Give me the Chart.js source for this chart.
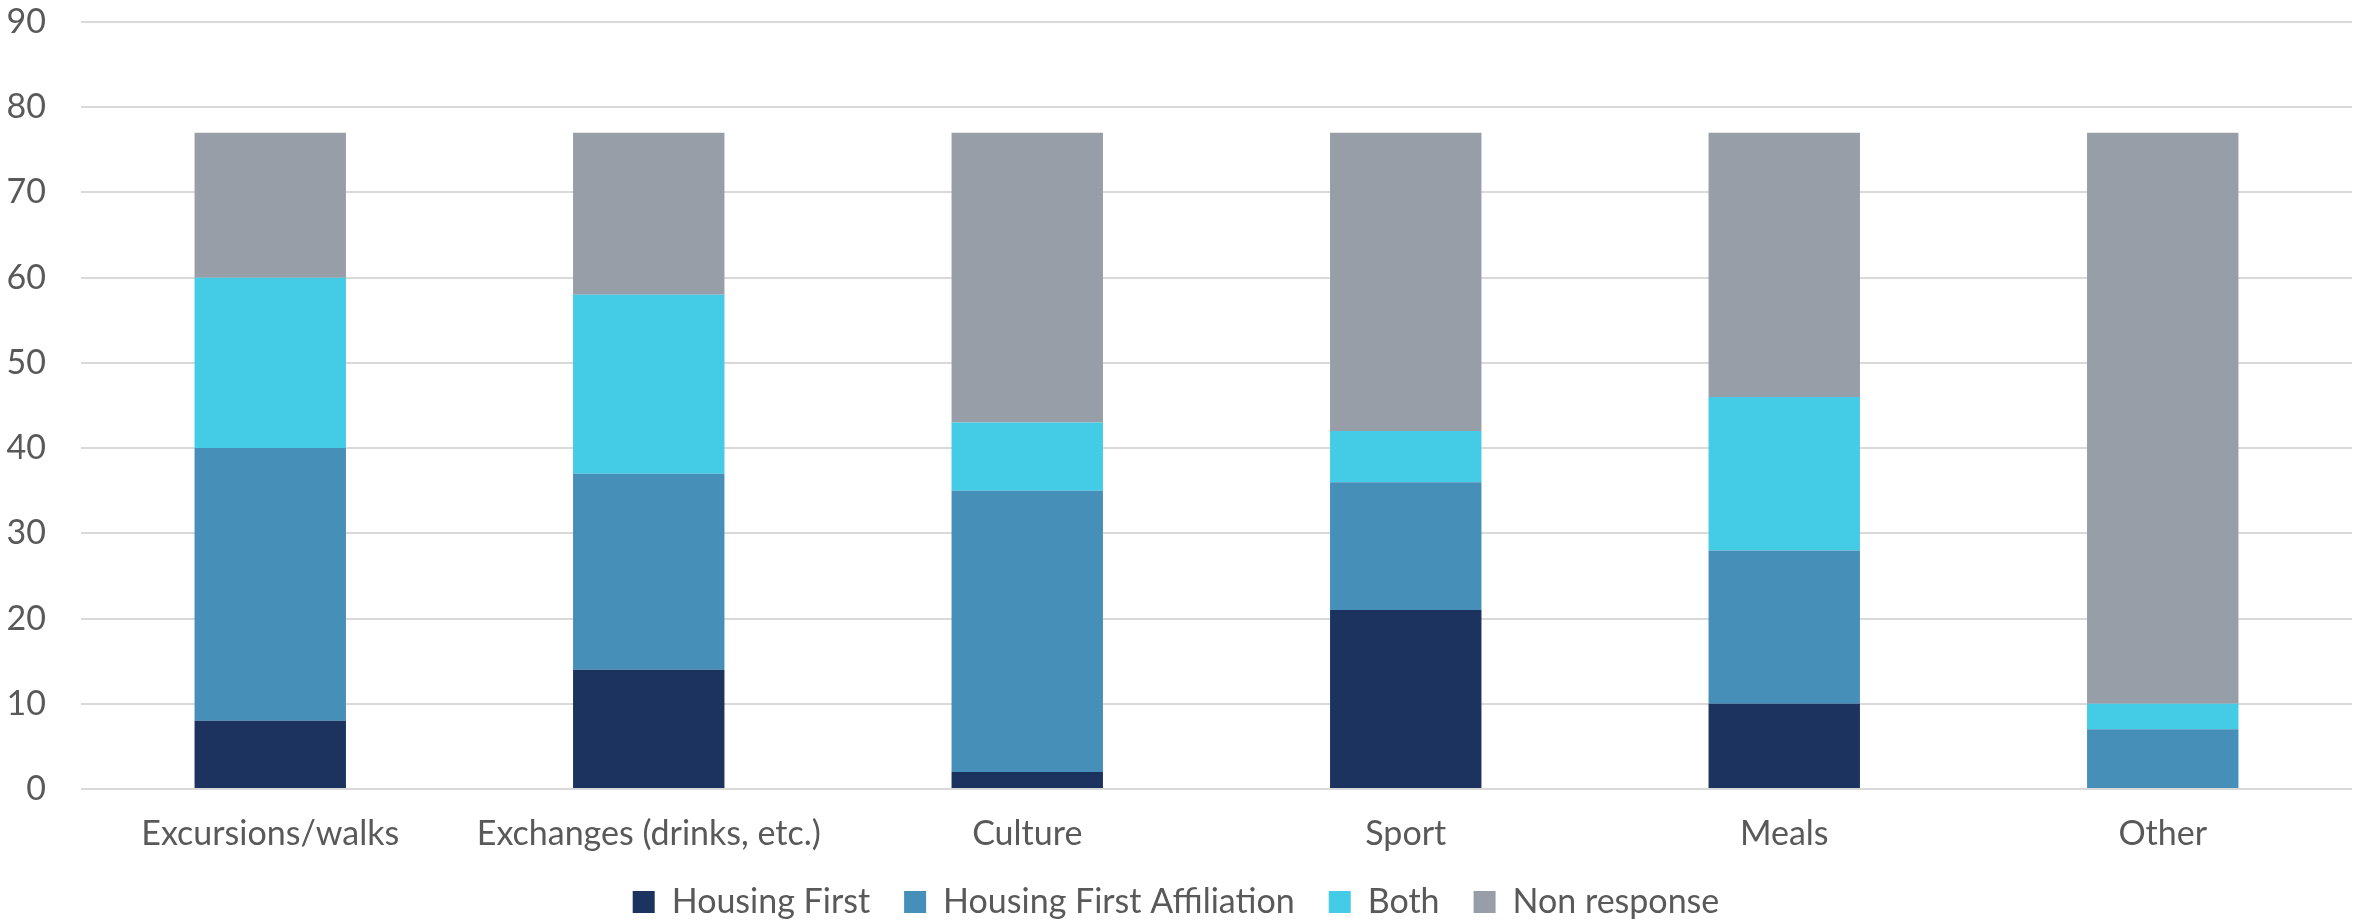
<!DOCTYPE html>
<html>
<head>
<meta charset="utf-8">
<script src="https://cdn.jsdelivr.net/npm/chart.js@4"></script>
<style>
  html, body { margin: 0; padding: 0; background: #ffffff; }
  #wrap { width: 2354px; height: 923px; position: relative; }
</style>
</head>
<body>
<div id="wrap"><canvas id="activity-chart"></canvas></div>
<script>
const ctx = document.getElementById("activity-chart");

const categories = ["Excursions/walks", "Exchanges (drinks, etc.)", "Culture", "Sport", "Meals", "Other"];
const housingFirst = [8, 14, 2, 21, 10, 0];
const housingFirstAffiliation = [32, 23, 33, 15, 18, 7];
const both = [20, 21, 8, 6, 18, 3];
const nonResponse = [17, 19, 34, 35, 31, 67];

const Config = {
  colors: {
    housingFirst: "#1c325f",
    affiliation: "#468fb8",
    both: "#44cbe6",
    nonResponse: "#979ea8",
    text: "#595959",
    grid: "#d9d9d9",
  },
  fontSize: 34,
};

Chart.defaults.color = Config.colors.text;
Chart.defaults.font.size = Config.fontSize;
Chart.defaults.font.family = `Lato, "Open Sans", sans-serif`;

const makeSet = (label, data, color) => ({
  label,
  data,
  backgroundColor: color,
  borderWidth: 0,
  categoryPercentage: 0.8,
  barPercentage: 0.5,
});

new Chart(ctx, {
  type: "bar",
  data: {
    labels: categories,
    datasets: [
      makeSet("Housing First", housingFirst, Config.colors.housingFirst),
      makeSet("Housing First Affiliation", housingFirstAffiliation, Config.colors.affiliation),
      makeSet("Both", both, Config.colors.both),
      makeSet("Non response", nonResponse, Config.colors.nonResponse),
    ],
  },
  options: {
    responsive: true,
    maintainAspectRatio: false,
    animation: false,
    layout: {
      padding: { left: 0, right: 2, top: 0, bottom: -6 },
    },
    scales: {
      x: {
        stacked: true,
        grid: { display: false, drawTicks: false },
        border: { display: false },
        ticks: { padding: 28, maxRotation: 0, autoSkip: false, font: { lineHeight: 1 } },
        afterFit: (scale) => {
          // chart.js counts tick padding twice here, pin the height instead
          scale.height = 62;
        },
      },
      y: {
        stacked: true,
        min: 0,
        max: 90,
        ticks: { stepSize: 10, padding: 35 },
        grid: { color: Config.colors.grid, lineWidth: 2, drawTicks: false },
        border: { display: false },
        afterFit: (scale) => {
          scale.width = 81;
          scale.paddingTop = 22;
        },
      },
    },
    plugins: {
      legend: {
        position: "bottom",
        labels: {
          boxWidth: 22,
          boxHeight: 22,
          padding: 34,
          font: { size: Config.fontSize, lineHeight: 1 },
        },
      },
      tooltip: { enabled: false },
    },
  },
});
</script>
</body>
</html>
